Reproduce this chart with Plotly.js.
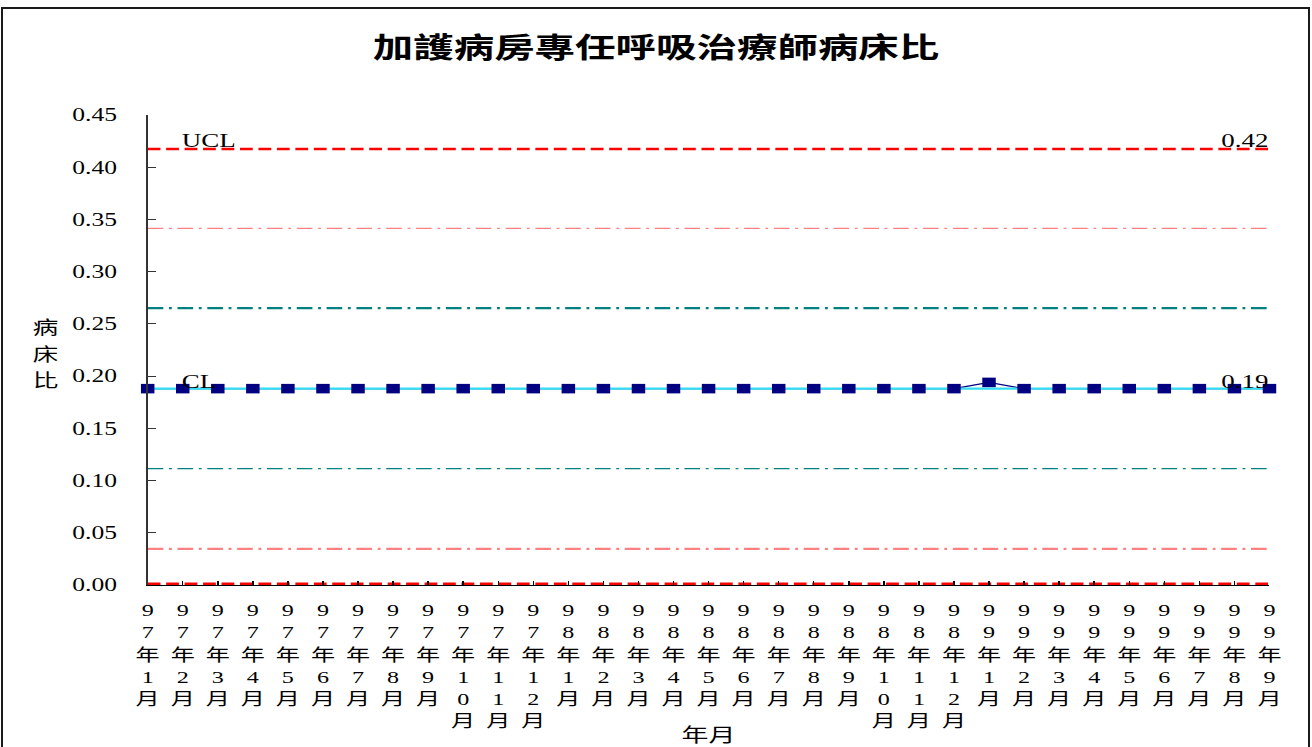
<!DOCTYPE html>
<html>
<head>
<meta charset="utf-8">
<script src="https://cdn.plot.ly/plotly-3.0.1.min.js"></script>
<style>
  html, body { margin: 0; padding: 0; background: #fff; }
  #wrap { position: relative; width: 1312px; height: 747px; overflow: hidden; background: #fff; }
  #chart { position: absolute; left: 0; top: 0; width: 924px; height: 747px; transform: scaleX(1.42); transform-origin: 0 0; }
  #frame { position: absolute; left: 1px; top: 7px; width: 1305px; height: 780px; border: 2px solid #1a1a1a; pointer-events: none; }
</style>
</head>
<body>
<div id="wrap">
  <div id="chart"></div>
  <div id="frame"></div>
</div>
<script>
// ---- data ----
const months = [
  "97年1月","97年2月","97年3月","97年4月","97年5月","97年6月","97年7月","97年8月","97年9月","97年10月","97年11月","97年12月",
  "98年1月","98年2月","98年3月","98年4月","98年5月","98年6月","98年7月","98年8月","98年9月","98年10月","98年11月","98年12月",
  "99年1月","99年2月","99年3月","99年4月","99年5月","99年6月","99年7月","99年8月","99年9月"
];
const ratio = [
  0.188,0.188,0.188,0.188,0.188,0.188,0.188,0.188,0.188,0.188,0.188,0.188,
  0.188,0.188,0.188,0.188,0.188,0.188,0.188,0.188,0.188,0.188,0.188,0.188,
  0.194,0.188,0.188,0.188,0.188,0.188,0.188,0.188,0.188
];
const UCL = 0.4175;
const U2 = 0.3415;
const U1 = 0.2650;
const CL = 0.1880;
const L1 = 0.1115;
const L2 = 0.0345;
const LCL = 0.0;

const titleText = "加護病房專任呼吸治療師病床比";
const yTitle = "病床比";
const xTitle = "年月";

// ---- chart ----
const serif = "Liberation Serif, 'Times New Roman', 'Noto Sans CJK TC', serif";
const cjk = "'Noto Sans CJK TC', 'Noto Sans CJK SC', sans-serif";
const stack = s => s.split('').join('<br>');
const flat = v => months.map(() => v);

function refLine(v, color, width, dash, name) {
  return { type: 'scatter', mode: 'lines', x: months, y: flat(v), name: name,
           line: { color: color, width: width, dash: dash }, hoverinfo: 'skip', cliponaxis: false };
}

const traces = [
  refLine(UCL, '#FF0000', 2.5, '9px,4px', 'UCL'),
  refLine(U2, '#FF8080', 1.2, '11px,4px,2px,4px', '+2σ'),
  refLine(U1, '#008080', 2.2, '11px,4px,2px,4px', '+1σ'),
  refLine(L1, '#008080', 1.2, '11px,4px,2px,4px', '-1σ'),
  refLine(L2, '#FF8080', 2.2, '11px,4px,2px,4px', '-2σ'),
  refLine(LCL, '#FF0000', 5, '9px,4px', 'LCL'),
  { type: 'scatter', mode: 'lines', x: months, y: ratio, name: yTitle,
    line: { color: '#000080', width: 1.3 }, cliponaxis: false },
  refLine(CL, '#33DDF5', 2.2, 'solid', 'CL'),
  { type: 'scatter', mode: 'markers', x: months, y: ratio, name: yTitle,
    marker: { symbol: 'square', size: 9.5, color: '#000080', line: { width: 0 } },
    cliponaxis: false }
];

const annFont = { family: serif, size: 19, color: '#000' };
const yTitleAnns = yTitle.split('').map((ch, i) => ({
  xref: 'paper', yref: 'paper', x: (32 - 104) / 790, y: (585 - (326 + i * 26.5)) / 470,
  text: ch, showarrow: false, xanchor: 'center', yanchor: 'middle',
  font: { family: cjk, size: 18, color: '#000' }
}));

const layout = {
  width: 924, height: 747,
  paper_bgcolor: '#fff', plot_bgcolor: '#fff',
  showlegend: false,
  margin: { l: 104, r: 30, t: 115, b: 162, pad: 0 },
  title: { text: titleText, xref: 'container', x: 0.5, xanchor: 'center',
           yref: 'container', y: 1 - 48 / 747, yanchor: 'middle',
           font: { family: cjk, size: 28.5, weight: 'bold', color: '#000' } },
  xaxis: {
    type: 'category', range: [0, months.length - 1],
    tickmode: 'array', tickvals: months, ticktext: months.map(stack), tickangle: 0,
    tickfont: { family: serif, size: 17, color: '#000' },
    showline: true, linecolor: '#000', linewidth: 1,
    ticks: 'inside', ticklen: 4, tickcolor: '#000', tickwidth: 1,
    ticklabelstandoff: 10,
    showgrid: false, zeroline: false, fixedrange: true,
    title: { text: xTitle, font: { family: cjk, size: 19, color: '#000' }, standoff: 3 }
  },
  yaxis: {
    range: [0, 0.45], tick0: 0, dtick: 0.05, tickformat: '.2f',
    tickfont: { family: serif, size: 18, color: '#000' },
    showline: true, linecolor: '#333', linewidth: 1,
    ticks: 'inside', ticklen: 6, tickcolor: '#333', tickwidth: 1,
    ticklabelstandoff: 17,
    showgrid: false, zeroline: false, fixedrange: true
  },
  annotations: [
    { xref: 'x', yref: 'y', x: months[1], y: UCL, text: 'UCL', showarrow: false,
      xanchor: 'left', yanchor: 'bottom', xshift: -3, yshift: -4, font: annFont },
    { xref: 'x', yref: 'y', x: months[months.length - 1], y: UCL, text: UCL.toFixed(2), showarrow: false,
      xanchor: 'right', yanchor: 'bottom', xshift: 1, yshift: -4, font: annFont },
    { xref: 'x', yref: 'y', x: months[1], y: CL, text: 'CL', showarrow: false,
      xanchor: 'left', yanchor: 'bottom', xshift: -3, yshift: -5, font: annFont },
    { xref: 'x', yref: 'y', x: months[months.length - 1], y: CL, text: CL.toFixed(2), showarrow: false,
      xanchor: 'right', yanchor: 'bottom', xshift: 1, yshift: -5, font: annFont }
  ].concat(yTitleAnns)
};

Plotly.newPlot('chart', traces, layout, { staticPlot: true, displayModeBar: false, responsive: false });
</script>
</body>
</html>
